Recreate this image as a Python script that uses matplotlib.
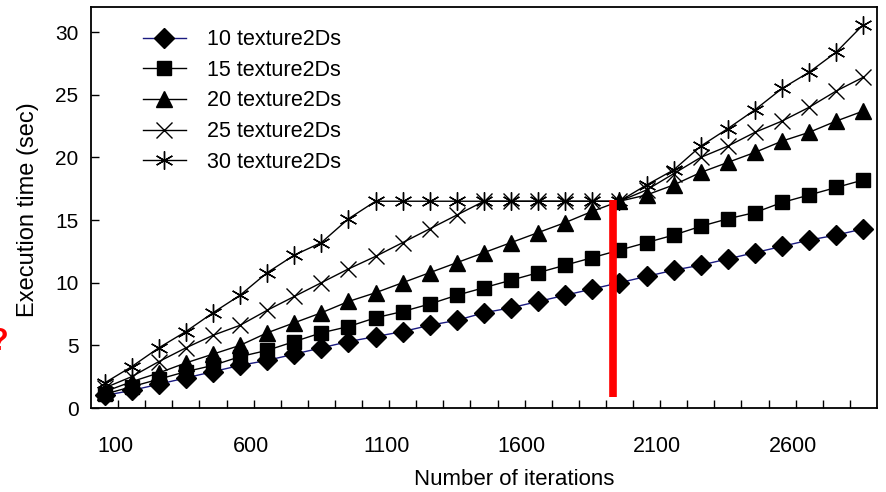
import matplotlib
matplotlib.use('Agg')
import matplotlib.pyplot as plt
import numpy as np

plt.rcParams['font.family'] = ['Liberation Sans', 'DejaVu Sans']

iterations = [100, 200, 300, 400, 500, 600, 700, 800, 900, 1000,
              1100, 1200, 1300, 1400, 1500, 1600, 1700, 1800, 1900, 2000,
              2100, 2200, 2300, 2400, 2500, 2600, 2700, 2800, 2900]

t10 = [1.0, 1.4, 1.9, 2.4, 2.9, 3.4, 3.8, 4.3, 4.8, 5.3,
       5.7, 6.1, 6.6, 7.0, 7.6, 8.0, 8.5, 9.0, 9.5, 10.0,
       10.5, 11.0, 11.4, 11.9, 12.4, 12.9, 13.4, 13.8, 14.3]
t15 = [1.1, 1.7, 2.3, 2.9, 3.4, 4.1, 4.6, 5.3, 6.0, 6.5,
       7.2, 7.7, 8.3, 9.0, 9.6, 10.2, 10.8, 11.4, 12.0, 12.6,
       13.2, 13.8, 14.5, 15.1, 15.6, 16.4, 17.0, 17.6, 18.2]
t20 = [1.3, 2.1, 2.8, 3.6, 4.3, 5.0, 6.0, 6.8, 7.6, 8.5,
       9.2, 10.0, 10.8, 11.6, 12.4, 13.2, 14.0, 14.8, 15.7, 16.5,
       17.0, 17.8, 18.8, 19.6, 20.4, 21.3, 22.0, 22.9, 23.7]
t25 = [1.6, 2.5, 3.7, 4.8, 5.8, 6.6, 7.8, 8.9, 10.0, 11.1,
       12.1, 13.2, 14.3, 15.4, 16.5, 16.5, 16.5, 16.5, 16.5, 16.5,
       17.4, 18.7, 20.0, 20.9, 22.0, 22.9, 24.0, 25.3, 26.4]
t30 = [2.0, 3.3, 4.8, 6.1, 7.6, 9.0, 10.8, 12.2, 13.2, 15.1,
       16.5, 16.5, 16.5, 16.5, 16.5, 16.5, 16.5, 16.5, 16.5, 16.5,
       17.8, 19.0, 20.9, 22.3, 23.8, 25.5, 26.8, 28.4, 30.6]

labels = ['10 texture2Ds', '15 texture2Ds', '20 texture2Ds', '25 texture2Ds', '30 texture2Ds']

# red marker bar (between 1900 and 2000)
bar_pos = 18.76
bar_low, bar_high = 0.9, 16.6

fig = plt.figure(figsize=(8.86, 4.92), dpi=100)
ax = fig.add_axes([0.1027, 0.1707, 0.8871, 0.8151])

x = np.arange(len(iterations))

ax.plot(x, t10, color='#1a1a80', lw=1.0, marker='D', ms=10, mfc='black', mec='black', label=labels[0])
ax.plot(x, t15, color='black', lw=1.0, marker='s', ms=9.5, mfc='black', mec='black', label=labels[1])
ax.plot(x, t20, color='black', lw=1.0, marker='^', ms=11, mfc='black', mec='black', label=labels[2])
ax.plot(x, t25, color='black', lw=1.0, marker='x', ms=12, mew=1.0, label=labels[3])
ax.plot(x, t30, color='black', lw=1.0, marker=(6, 2, 0), ms=13, mew=1.0, label=labels[4])

ax.plot([bar_pos, bar_pos], [bar_low, bar_high], color='red', lw=5.5, solid_capstyle='butt', zorder=5)

ax.set_xlim(-0.5, len(iterations) - 0.5)
ax.set_ylim(0, 32)

ax.set_yticks([0, 5, 10, 15, 20, 25, 30])
ax.tick_params(axis='y', direction='in', length=6, width=1, labelsize=15, pad=9)

ax.set_xticks(x[::5] + 0.4)
ax.set_xticklabels([str(v) for v in iterations[::5]])
ax.set_xticks(np.arange(0.5, len(iterations) - 0.5, 1), minor=True)
ax.tick_params(axis='x', which='major', length=0, labelsize=15.5, pad=20)
ax.tick_params(axis='x', which='minor', direction='in', length=6, width=1)

for s in ax.spines.values():
    s.set_linewidth(1.3)

ax.set_xlabel('Number of iterations', fontsize=16)
ax.xaxis.set_label_coords(0.539, -0.152)
ax.set_ylabel('Execution time (sec)', fontsize=17)
ax.yaxis.set_label_coords(-0.066, 0.494)

ax.legend(loc='upper left', bbox_to_anchor=(0.066, 0.945), frameon=False, fontsize=15.5,
          handlelength=2.0, handletextpad=1.0, labelspacing=0.45, borderpad=0, borderaxespad=0)

fig.text(-0.012, 0.305, '?', color='red', fontsize=22, fontweight='bold', ha='left', va='center')

fig.savefig('out.png', dpi=100)
